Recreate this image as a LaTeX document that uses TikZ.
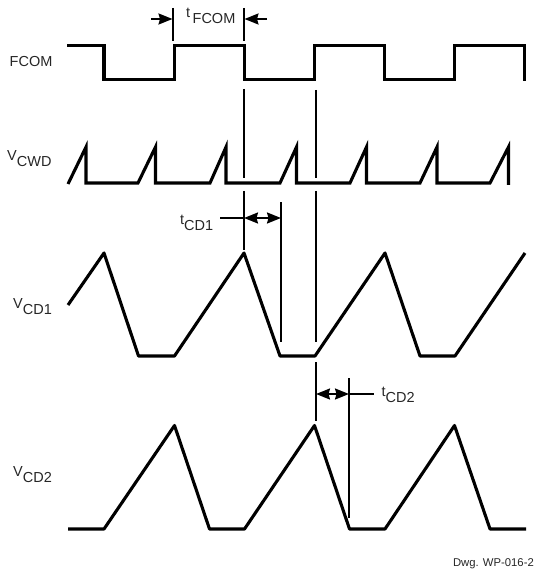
\documentclass[tikz,border=0pt]{standalone}
\usepackage{fontspec}
\setmainfont{Liberation Sans}
\usetikzlibrary{arrows.meta}
\tikzset{
  x=1pt,y=-1pt,
  signal/.style={line width=3.1pt,line join=miter,black},
  guide/.style={line width=2pt,black},
  dimarrow/.style={line width=1.8pt,black,{Stealth[length=14pt,width=11pt,inset=1.5pt]}-{Stealth[length=14pt,width=11pt,inset=1.5pt]}},
  dimin/.style={line width=1.8pt,black,-{Stealth[length=14pt,width=11pt,inset=1.5pt]}},
  lab/.style={font=\fontsize{14.5pt}{16pt}\selectfont,inner sep=0pt,anchor=base west,text=black!85},
  tag/.style={font=\fontsize{11.3pt}{13pt}\selectfont,inner sep=0pt,anchor=base east,text=black!85}
}
\newcommand{\sub}[2]{\raisebox{6pt}{#1}#2}
\begin{document}
\begin{tikzpicture}
\useasboundingbox (0,0) rectangle (535,569);
% labels
\node[lab] (lfcom) at (9.5,66.5) {FCOM};
\node[lab] (lcwd) at (7,166.5) {\sub{V}{CWD}};
\node[lab] (lcd1) at (13,314.5) {\sub{V}{CD1}};
\node[lab] (lcd2) at (13,482) {\sub{V}{CD2}};
\node[lab] (ltf) at (186,24) {\sub{t}{\,FCOM}};
\node[lab] (ltc1) at (180,230) {\sub{t}{CD1}};
\node[lab] (ltc2) at (381.5,402.5) {\sub{t}{CD2}};
\node[tag] (ldwg) at (534,566) {Dwg. WP-016-2};
% FCOM
\draw[signal] (67,45.5) -- (104,45.5) -- (104,79.5) -- (174.5,79.5) -- (174.5,45.5) -- (244.5,45.5) -- (244.5,79.5) -- (314.5,79.5) -- (314.5,45.5) -- (384.5,45.5) -- (384.5,79.5) -- (454.5,79.5) -- (454.5,45.5) -- (524.5,45.5) -- (524.5,81);
% VCWD
\draw[signal] (68,184) -- (86,147) -- (86,183) -- (138,183) -- (155.5,147) -- (155.5,183) -- (210,183) -- (226,147) -- (226,183) -- (280,183) -- (296.5,147) -- (296.5,183) -- (350,183) -- (366.5,147) -- (366.5,183) -- (420,183) -- (437,147) -- (437,183) -- (490,183) -- (508.5,147) -- (508.5,185);
% VCD1
\draw[signal,line join=round] (68,305) -- (104,253) -- (138.5,356) -- (174.5,356) -- (244,253) -- (280,356) -- (315,356) -- (385,253) -- (420,356) -- (455,356) -- (525,253);
% VCD2
\draw[signal,line join=round] (68,529) -- (104,529) -- (174.5,425.5) -- (209.5,529) -- (244.5,529) -- (314.5,425.5) -- (349.5,529) -- (385,529) -- (454.5,425.5) -- (490,529) -- (526,529);
% guides
\coordinate (fa) at (173,8); \coordinate (fb) at (173,41.5);
\coordinate (ga) at (244,8); \coordinate (gb) at (244,41.5);
\draw[guide] (fa) -- (fb);
\draw[guide] (ga) -- (gb);
\coordinate (fl) at (151,19); \coordinate (flt) at (172.5,19);
\coordinate (fr) at (267,19); \coordinate (frt) at (244.5,19);
\draw[dimin] (fl) -- (flt);
\draw[dimin] (fr) -- (frt);
\coordinate (h1) at (244,89); \coordinate (h2) at (244,178);
\coordinate (h3) at (244,191); \coordinate (h4) at (244,250);
\draw[guide] (h1) -- (h2);
\draw[guide] (h3) -- (h4);
\coordinate (j1) at (316,90); \coordinate (j2) at (316,178);
\coordinate (j3) at (316,191); \coordinate (j4) at (316,342);
\coordinate (j5) at (316,362); \coordinate (j6) at (316,421);
\draw[guide] (j1) -- (j2);
\draw[guide] (j3) -- (j4);
\draw[guide] (j5) -- (j6);
\coordinate (k1) at (281,202); \coordinate (k2) at (281,342);
\draw[guide] (k1) -- (k2);
\coordinate (m1) at (349,378); \coordinate (m2) at (349,518);
\draw[guide] (m1) -- (m2);
% dimension arrows
\coordinate (c1l) at (220,218); \coordinate (c1a) at (244,218); \coordinate (c1b) at (281,218);
\draw[line width=1.8pt] (c1l) -- (c1a);
\draw[dimarrow] (c1a) -- (c1b);
\coordinate (c2a) at (316,394); \coordinate (c2b) at (349,394); \coordinate (c2r) at (374,394);
\draw[dimarrow] (c2a) -- (c2b);
\draw[line width=1.8pt] (c2b) -- (c2r);
\end{tikzpicture}
\end{document}
